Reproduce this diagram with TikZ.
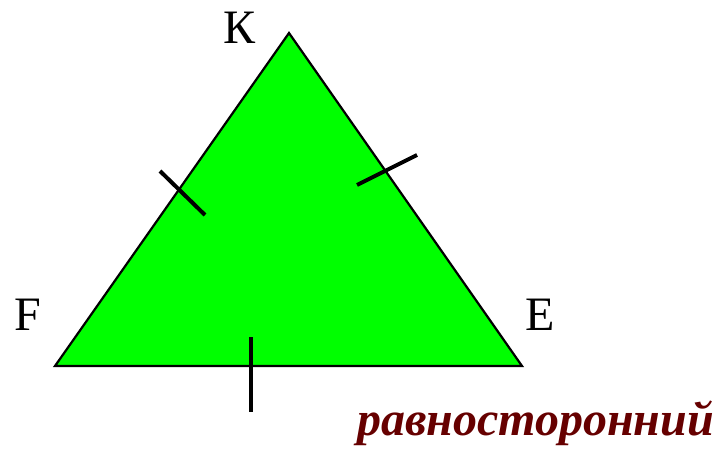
\documentclass[tikz,border=0pt]{standalone}
\usepackage{fontspec}
\setmainfont{Liberation Serif}
\definecolor{tri}{RGB}{0,255,0}
\definecolor{wine}{RGB}{102,0,0}
\begin{document}
\begin{tikzpicture}[x=1pt,y=-1pt,
  lbl/.style={inner sep=0pt,font=\fontsize{48}{48}\selectfont},
  tick/.style={line width=4pt,black},
  side/.style={line width=2.2pt,black,line join=miter}]
\useasboundingbox (0,0) rectangle (718,448);
\coordinate (K) at (289,33);
\coordinate (F) at (55,366);
\coordinate (E) at (522,366);
\filldraw[side,fill=tri] (K) -- (E) -- (F) -- cycle;
\coordinate (l1) at (160,171);
\coordinate (l2) at (205,215);
\coordinate (r1) at (357,185);
\coordinate (r2) at (417,155);
\coordinate (b1) at (251,337);
\coordinate (b2) at (251,412);
\draw[tick] (l1) -- (l2);
\draw[tick] (r1) -- (r2);
\draw[tick] (b1) -- (b2);
\node[lbl,anchor=base] (kl) at (240,43) {К};
\node[lbl,anchor=base] (fl) at (28,330) {F};
\node[lbl,anchor=base] (el) at (540,330) {E};
\node[inner sep=0pt,anchor=base east,text=wine,font=\fontsize{48}{48}\selectfont\bfseries\itshape] (t) at (714,435) {равносторонний};
\end{tikzpicture}
\end{document}
